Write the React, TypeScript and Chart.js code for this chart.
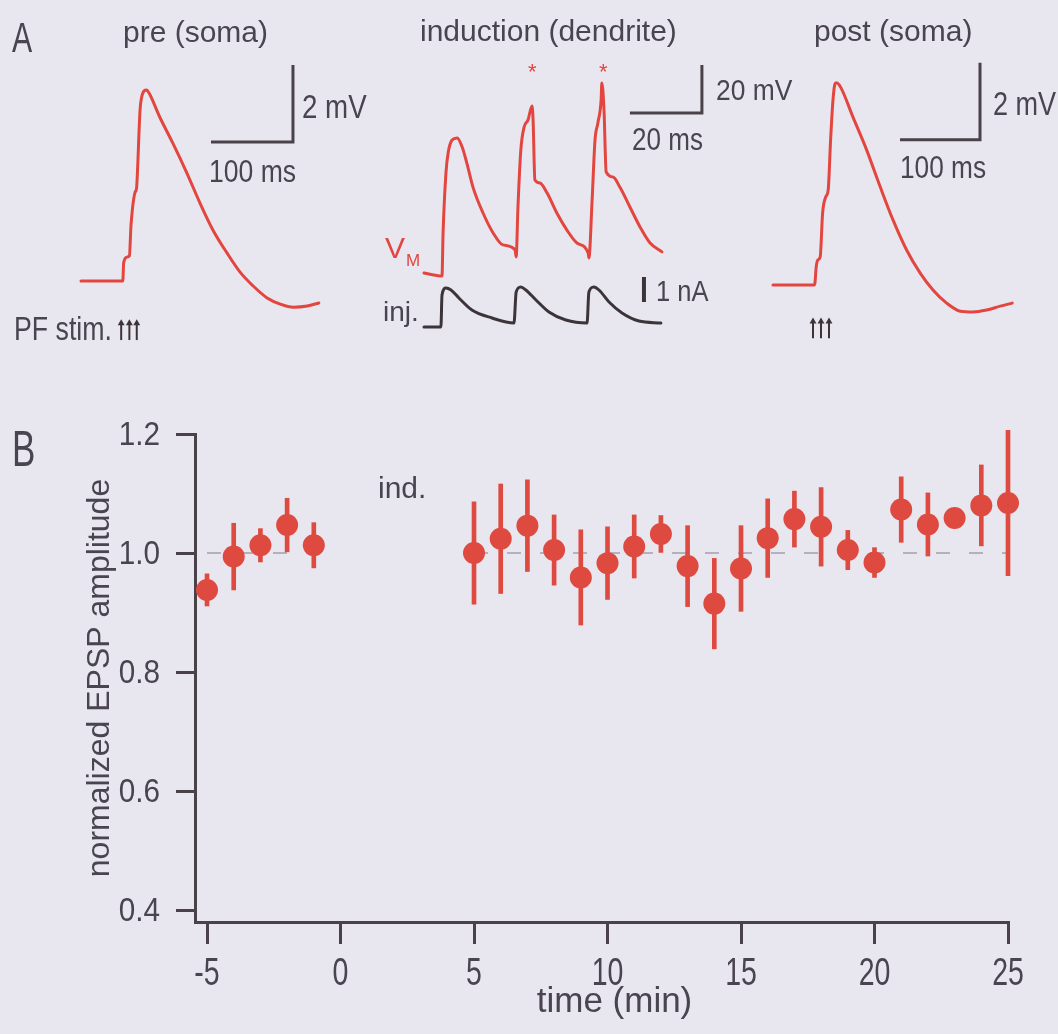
import React, { useEffect, useRef } from "react";
import { Chart, registerables } from "chart.js";

Chart.register(...registerables);

// ---------------- Panel B data ----------------
const timeMin = [-5, -4, -3, -2, -1, 5, 6, 7, 8, 9, 10, 11, 12, 13, 14, 15, 16, 17, 18, 19, 20, 21, 22, 23, 24, 25];
const epspMean = [0.938, 0.994, 1.013, 1.047, 1.013, 1.0, 1.024, 1.046, 1.005, 0.959, 0.983, 1.011, 1.032, 0.978, 0.915, 0.974, 1.025, 1.057, 1.044, 1.005, 0.984, 1.073, 1.048, 1.059, 1.08, 1.084];
const epspSem = [0.027, 0.056, 0.028, 0.045, 0.038, 0.086, 0.092, 0.077, 0.059, 0.08, 0.061, 0.053, 0.031, 0.068, 0.076, 0.072, 0.066, 0.047, 0.066, 0.033, 0.025, 0.055, 0.053, 0.01, 0.068, 0.122];
const xTicks = [-5, 0, 5, 10, 15, 20, 25];
const yTicks = [0.4, 0.6, 0.8, 1.0, 1.2];
const refLevel = 1.0;
const refPreSpan = [-5, -1];
const refPostSpan = [5, 25];

// ---------------- Panel A traces ----------------
const preTimeMs = [0, 51, 52, 56, 59, 61, 66, 67, 68, 72, 74, 77, 80, 83, 96, 112, 129, 145, 161, 178, 194, 210, 227, 243, 259, 276, 290];
const preMv = [0, 0, 0.47, 0.62, 0.65, 1.45, 2.31, 2.34, 2.47, 4.44, 4.78, 4.94, 4.96, 4.88, 4.26, 3.58, 2.81, 2.03, 1.32, 0.73, 0.23, -0.13, -0.44, -0.6, -0.68, -0.65, -0.57];

const indTimeMs = [0, 5, 5.3, 6.1, 6.7, 7.8, 9.2, 10.6, 11.9, 13.6, 16.4, 19.2, 21.9, 25.3, 25.6, 26.1, 26.9, 27.8, 28.9, 30, 30.3, 30.8, 32.2, 34.2, 36.9, 39.7, 42.5, 45.6, 45.8, 46.7, 47.5, 48.3, 49.2, 49.4, 50, 50.6, 52.5, 54.4, 57.2, 60, 62.8, 66.1];
const indMv = [0, -1.25, 16.7, 41.7, 50, 55.4, 56.3, 52.5, 45.8, 35.8, 25, 16.7, 11.7, 9.6, 6.7, 27.5, 51.3, 60.8, 63.8, 69.6, 63.8, 38.8, 37.5, 33.3, 25, 17.9, 12.5, 8.3, 6.3, 30.4, 55.4, 62.5, 72.1, 79.2, 67.9, 42.1, 40, 35.8, 27.5, 19.2, 12.5, 8.8];

const injTimeMs = [0, 4.7, 5, 6.1, 7.5, 9.7, 13.3, 18.9, 25, 25.6, 26.9, 28.3, 31.1, 34.7, 39.4, 45.3, 45.8, 47.2, 48.6, 51.4, 55, 59.7, 65.8];
const injNa = [0, 0, 1.28, 1.56, 1.48, 1.16, 0.68, 0.36, 0.16, 1.4, 1.6, 1.48, 1.08, 0.6, 0.28, 0.16, 1.4, 1.6, 1.48, 1, 0.56, 0.24, 0.16];

const postTimeMs = [0, 52, 54, 56, 59, 62, 66, 69, 72, 75, 78, 80, 85, 100, 117, 134, 150, 167, 184, 200, 217, 234, 250, 267, 284, 299];
const postMv = [0, 0, 0.47, 0.65, 0.73, 1.87, 2.29, 2.47, 3.77, 4.81, 5.25, 5.25, 5.12, 4.36, 3.51, 2.55, 1.69, 0.91, 0.31, -0.13, -0.47, -0.68, -0.7, -0.65, -0.55, -0.47];

// PF stimulus times (ms) marked by arrows
const preStimMs = [49, 59, 68];
const postStimMs = [50, 60, 70];

// scale bar sizes (ms, mV, nA)
const preScaleBar = [100, 2];
const indScaleBar = [20, 20];
const injScaleBar = [1];
const postScaleBar = [100, 2];

// ---------------- styling ----------------
const BG = "#e8e7ef";
const RED = "#df4a40";
const TRACE_RED = "#e2463f";
const INK = "#3d3439";
const AXIS = "#4b4148";
const TEXT = "#4a4450";
const DASH = "#b5b0bc";
const SANS = "'Liberation Sans', Arial, Helvetica, sans-serif";

const A_W = 1058;
const A_H = 380;

function rangeX(originPx: number, ppu: number) {
  return { min: -originPx / ppu, max: (A_W - originPx) / ppu };
}
function rangeY(originPx: number, ppu: number) {
  const max = originPx / ppu;
  return { min: max - A_H / ppu, max };
}

const pts = (xs: number[], ys: number[]) => xs.map((x, i) => ({ x, y: ys[i] }));
const lBar = (cx: number, cy: number, w: number, h: number) => [
  { x: cx - w, y: cy },
  { x: cx, y: cy },
  { x: cx, y: cy + h },
];
const xFmt = (v: number) => String(v);
const yFmt = (v: number) => v.toFixed(1);

function stimSets(times: number[], level: number, headOffset: number, xAxisID: string, yAxisID: string) {
  return [
    {
      label: "stim stem",
      data: times.map((t) => ({ x: t, y: level })),
      showLine: false,
      pointStyle: "line",
      rotation: 90,
      pointRadius: 9,
      pointBorderWidth: 2,
      pointBorderColor: INK,
      borderColor: INK,
      backgroundColor: INK,
      clip: false,
      xAxisID,
      yAxisID,
    },
    {
      label: "stim head",
      data: times.map((t) => ({ x: t, y: level + headOffset })),
      showLine: false,
      pointStyle: "triangle",
      pointRadius: 4,
      pointBorderWidth: 0,
      borderColor: INK,
      backgroundColor: INK,
      clip: false,
      xAxisID,
      yAxisID,
    },
  ];
}

function buildPanelA(): any {
  const trace = {
    borderWidth: 3,
    pointRadius: 0,
    cubicInterpolationMode: "monotone",
    fill: false,
    borderJoinStyle: "round",
    borderCapStyle: "round",
    clip: false,
  };
  const bar = {
    borderWidth: 3,
    pointRadius: 0,
    tension: 0,
    fill: false,
    borderColor: AXIS,
    borderJoinStyle: "miter",
    clip: false,
  };
  const hidden = (r: { min: number; max: number }, axis: string) => ({
    type: "linear",
    axis,
    display: false,
    min: r.min,
    max: r.max,
  });
  return {
    type: "line",
    data: {
      datasets: [
        { ...trace, label: "pre", data: pts(preTimeMs, preMv), borderColor: TRACE_RED, xAxisID: "xPre", yAxisID: "yPre" },
        { ...bar, label: "pre bar", data: lBar(258.5, 3.61, preScaleBar[0], preScaleBar[1]), xAxisID: "xPre", yAxisID: "yPre" },
        ...stimSets(preStimMs, -1.3, 0.2, "xPre", "yPre"),
        { ...trace, label: "Vm", data: pts(indTimeMs, indMv), borderColor: TRACE_RED, xAxisID: "xInd", yAxisID: "yVm" },
        { ...bar, label: "ind bar", data: lBar(77.2, 66.7, indScaleBar[0], indScaleBar[1]), xAxisID: "xInd", yAxisID: "yVm" },
        { ...trace, label: "inj", data: pts(injTimeMs, injNa), borderColor: INK, xAxisID: "xInd", yAxisID: "yInj" },
        {
          ...bar,
          label: "inj bar",
          borderWidth: 4,
          borderColor: INK,
          data: [
            { x: 61.1, y: 1.0 },
            { x: 61.1, y: 1.0 + injScaleBar[0] },
          ],
          xAxisID: "xInd",
          yAxisID: "yInj",
        },
        { ...trace, label: "post", data: pts(postTimeMs, postMv), borderColor: TRACE_RED, xAxisID: "xPost", yAxisID: "yPost" },
        { ...bar, label: "post bar", data: lBar(258.75, 3.77, postScaleBar[0], postScaleBar[1]), xAxisID: "xPost", yAxisID: "yPost" },
        ...stimSets(postStimMs, -1.15, 0.2, "xPost", "yPost"),
      ],
    },
    options: {
      responsive: false,
      animation: false,
      events: [],
      layout: { padding: 0, autoPadding: false },
      plugins: { legend: { display: false }, tooltip: { enabled: false } },
      scales: {
        xPre: hidden(rangeX(81, 0.82), "x"),
        yPre: hidden(rangeY(281, 38.5), "y"),
        xInd: hidden(rangeX(424, 3.6), "x"),
        yVm: hidden(rangeY(273, 2.4), "y"),
        yInj: hidden(rangeY(327, 25), "y"),
        xPost: hidden(rangeX(773, 0.8), "x"),
        yPost: hidden(rangeY(285, 38.5), "y"),
      },
    },
  };
}

// draws the tick labels and x title of panel B in a condensed face, positioned by the chart's own scales
const condensedTicks = {
  id: "condensedTicks",
  afterDraw(chart: any) {
    const ctx = chart.ctx as CanvasRenderingContext2D;
    const xs = chart.scales.x;
    const ys = chart.scales.y;
    ctx.save();
    ctx.fillStyle = TEXT;
    ctx.textBaseline = "alphabetic";
    ctx.font = `38px ${SANS}`;
    ctx.textAlign = "center";
    xs.ticks.forEach((t: any) => {
      const px = xs.getPixelForValue(t.value);
      ctx.save();
      ctx.translate(px, xs.top + 63);
      ctx.scale(0.75, 1);
      ctx.fillText(xFmt(t.value), 0, 0);
      ctx.restore();
    });
    ctx.font = `33px ${SANS}`;
    ctx.textAlign = "right";
    ys.ticks.forEach((t: any) => {
      const py = ys.getPixelForValue(t.value);
      ctx.save();
      ctx.translate(ys.right - 35, py + 11);
      ctx.scale(0.9, 1);
      ctx.fillText(yFmt(t.value), 0, 0);
      ctx.restore();
    });
    // x title, centred a little right of the axis midpoint as in the original
    ctx.font = `35px ${SANS}`;
    ctx.textAlign = "center";
    ctx.fillText("time (min)", (xs.left + xs.right) / 2 + 13, xs.top + 90);
    ctx.restore();
  },
};

function buildPanelB(): any {
  const means = timeMin.map((t, i) => ({ x: t, y: epspMean[i] }));
  const errs = timeMin.map((t, i) => ({ x: t, y: [epspMean[i] - epspSem[i], epspMean[i] + epspSem[i]] }));
  const ref = [
    { x: refPreSpan[0], y: refLevel },
    { x: refPreSpan[1], y: refLevel },
    { x: (refPreSpan[1] + refPostSpan[0]) / 2, y: null },
    { x: refPostSpan[0], y: refLevel },
    { x: refPostSpan[1], y: refLevel },
  ];
  return {
    type: "scatter",
    plugins: [condensedTicks],
    data: {
      datasets: [
        {
          type: "scatter",
          label: "mean",
          data: means,
          backgroundColor: RED,
          borderWidth: 0,
          pointRadius: 11,
          pointHoverRadius: 11,
          clip: false,
          order: 0,
        },
        {
          type: "bar",
          label: "sem",
          data: errs,
          backgroundColor: RED,
          borderWidth: 0,
          barThickness: 4,
          grouped: false,
          clip: false,
          order: 1,
        },
        {
          type: "line",
          label: "baseline",
          data: ref,
          borderColor: DASH,
          borderWidth: 2,
          borderDash: [14, 19],
          pointRadius: 0,
          spanGaps: false,
          fill: false,
          clip: false,
          order: 2,
        },
      ],
    },
    options: {
      responsive: false,
      animation: false,
      events: [],
      layout: { padding: { top: 434, right: 50, bottom: 0, left: 0 }, autoPadding: false },
      plugins: { legend: { display: false }, tooltip: { enabled: false } },
      scales: {
        x: {
          type: "linear",
          position: "bottom",
          min: -5.45,
          max: 25,
          offset: false,
          afterBuildTicks: (s: any) => {
            s.ticks = xTicks.map((v) => ({ value: v }));
          },
          afterFit: (s: any) => {
            s.height = 112;
          },
          border: { display: true, color: AXIS, width: 3 },
          grid: { offset: false, drawOnChartArea: false, drawTicks: true, tickLength: 22, color: AXIS, lineWidth: 3 },
          ticks: { display: false, autoSkip: false, maxRotation: 0, callback: (v: any) => xFmt(Number(v)) },
          title: { display: false, text: "time (min)" },
        },
        y: {
          type: "linear",
          position: "left",
          min: 0.38,
          max: 1.2,
          beginAtZero: false,
          afterBuildTicks: (s: any) => {
            s.ticks = yTicks.map((v) => ({ value: v }));
          },
          afterFit: (s: any) => {
            s.width = 195;
          },
          border: { display: true, color: AXIS, width: 3 },
          grid: { drawOnChartArea: false, drawTicks: true, tickLength: 19, color: AXIS, lineWidth: 3 },
          ticks: { display: false, callback: (v: any) => yFmt(Number(v)) },
          title: {
            display: true,
            text: "normalized EPSP amplitude",
            color: TEXT,
            font: { family: SANS, size: 32 },
            padding: { top: 81, bottom: 0 },
          },
        },
      },
    },
  };
}

type Lbl = { t: string; x: number; y: number; s: number; sx?: number; c?: string };

const labels: Lbl[] = [
  { t: "A", x: 12, y: 17, s: 42, sx: 0.72 },
  { t: "pre (soma)", x: 123, y: 17, s: 30 },
  { t: "induction (dendrite)", x: 420, y: 16, s: 30 },
  { t: "post (soma)", x: 814, y: 16, s: 30 },
  { t: "2 mV", x: 302, y: 90, s: 33, sx: 0.84 },
  { t: "100 ms", x: 209, y: 155, s: 32, sx: 0.83 },
  { t: "20 mV", x: 716, y: 75, s: 30, sx: 0.88 },
  { t: "20 ms", x: 632, y: 124, s: 31, sx: 0.84 },
  { t: "2 mV", x: 993, y: 87, s: 33, sx: 0.82 },
  { t: "100 ms", x: 900, y: 151, s: 32, sx: 0.82 },
  { t: "1 nA", x: 656, y: 277, s: 29, sx: 0.88 },
  { t: "inj.", x: 383, y: 298, s: 28 },
  { t: "PF stim.", x: 14, y: 312, s: 33, sx: 0.81 },
  { t: "B", x: 12, y: 424, s: 50, sx: 0.7 },
  { t: "ind.", x: 378, y: 473, s: 30 },
  { t: "*", x: 528, y: 61, s: 22, c: TRACE_RED },
  { t: "*", x: 599, y: 61, s: 22, c: TRACE_RED },
];

export default function App() {
  const aRef = useRef<HTMLCanvasElement>(null);
  const bRef = useRef<HTMLCanvasElement>(null);

  useEffect(() => {
    const chartA = new Chart(aRef.current as HTMLCanvasElement, buildPanelA());
    const chartB = new Chart(bRef.current as HTMLCanvasElement, buildPanelB());
    return () => {
      chartA.destroy();
      chartB.destroy();
    };
  }, []);

  return (
    <div
      style={{
        position: "fixed",
        left: 0,
        top: 0,
        width: 1058,
        height: 1034,
        background: BG,
        overflow: "hidden",
      }}
    >
      <canvas
        ref={aRef}
        width={A_W}
        height={A_H}
        style={{ position: "absolute", left: 0, top: 0, width: A_W, height: A_H }}
      />
      <canvas
        ref={bRef}
        width={1058}
        height={1034}
        style={{ position: "absolute", left: 0, top: 0, width: 1058, height: 1034 }}
      />
      {labels.map((l, i) => (
        <div
          key={i}
          style={{
            position: "absolute",
            left: l.x,
            top: l.y,
            fontSize: l.s,
            lineHeight: 1,
            fontFamily: SANS,
            color: l.c || TEXT,
            whiteSpace: "nowrap",
            transform: l.sx ? `scaleX(${l.sx})` : undefined,
            transformOrigin: "left top",
          }}
        >
          {l.t}
        </div>
      ))}
      <div
        style={{
          position: "absolute",
          left: 385,
          top: 233,
          fontSize: 30,
          lineHeight: 1,
          fontFamily: SANS,
          color: TRACE_RED,
          whiteSpace: "nowrap",
        }}
      >
        V
        <span style={{ fontSize: 17, position: "relative", top: 8, marginLeft: 1 }}>M</span>
      </div>
    </div>
  );
}
